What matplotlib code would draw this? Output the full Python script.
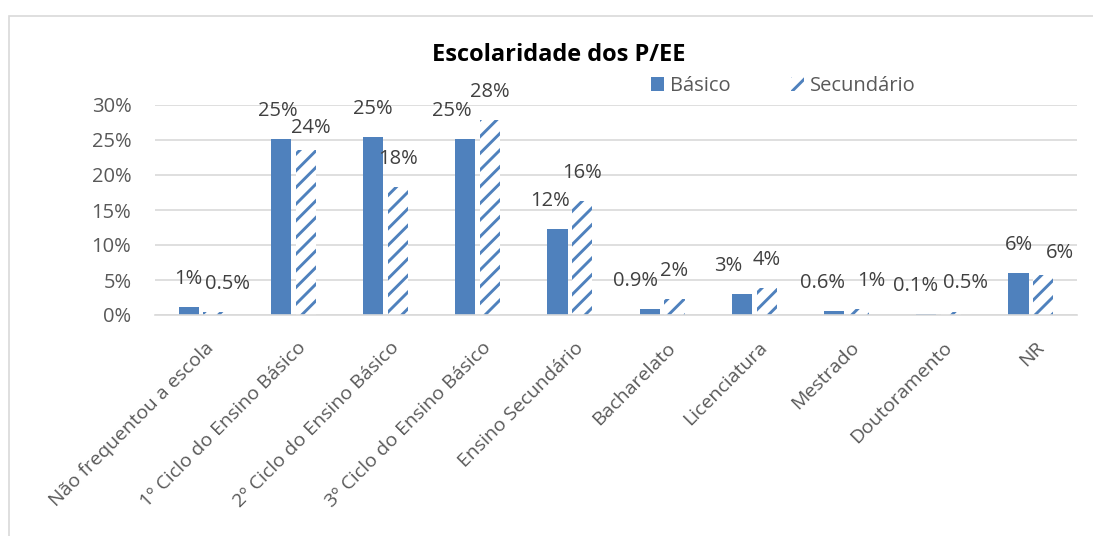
import numpy as np
import matplotlib.pyplot as plt
from matplotlib.patches import Rectangle
from matplotlib.ticker import PercentFormatter
from matplotlib.transforms import ScaledTranslation

plt.rcParams['font.family'] = ['Open Sans', 'DejaVu Sans']
plt.rcParams['hatch.linewidth'] = 2.1

categories = ["Não frequentou a escola", "1º Ciclo do Ensino Básico",
              "2º Ciclo do Ensino Básico", "3º Ciclo do Ensino Básico",
              "Ensino Secundário", "Bacharelato", "Licenciatura",
              "Mestrado", "Doutoramento", "NR"]
basico = [1.1, 25.1, 25.4, 25.1, 12.3, 0.9, 3.0, 0.6, 0.1, 6.0]
secundario = [0.4, 23.5, 18.3, 27.8, 16.3, 2.3, 3.8, 0.8, 0.5, 5.7]
basico_lbl = ["1%", "25%", "25%", "25%", "12%", "0.9%", "3%", "0.6%", "0.1%", "6%"]
secundario_lbl = ["0.5%", "24%", "18%", "28%", "16%", "2%", "4%", "1%", "0.5%", "6%"]

# label nudges (points) like Excel moved them to avoid overlaps
nudge_b = [0, -2, 0, -10, -5, -10, -10, -8, -8, 0]
nudge_s = [10, 4, 0, 0, 0, 0, 0, 9, 10, 12]
lift_s = [13, 9, 13, 13, 13, 13, 13, 13, 13, 9]

blue = "#4F81BD"
txt = "#595959"
grid = "#D9D9D9"

fig = plt.figure(figsize=(10.93, 5.36), dpi=100)
fig.patches.append(Rectangle((9 / 1093, -0.1), 1.2, 1 - 16 / 536 + 0.1,
                             transform=fig.transFigure, fill=False,
                             edgecolor=grid, linewidth=1.2))
ax = fig.add_axes([155 / 1093, 1 - 315 / 536, 922 / 1093, 210 / 536])

x = np.arange(len(categories))
w = 0.22
ax.bar(x - 0.135, basico, w, color=blue, linewidth=0, label="Básico")
ax.bar(x + 0.135, secundario, w, facecolor="white", edgecolor=blue,
       hatch="//", linewidth=0, label="Secundário")

for i in range(len(categories)):
    ax.annotate(basico_lbl[i], (x[i] - 0.135, basico[i]),
                xytext=(nudge_b[i], 13), textcoords="offset points",
                ha="center", va="bottom", fontsize=14.5, color="#404040")
    ax.annotate(secundario_lbl[i], (x[i] + 0.135, secundario[i]),
                xytext=(nudge_s[i], lift_s[i]), textcoords="offset points",
                ha="center", va="bottom", fontsize=14.5, color="#404040")

ax.set_xlim(-0.5, len(categories) - 0.5)
ax.set_ylim(0, 30)
ax.set_yticks(np.arange(0, 31, 5))
ax.yaxis.set_major_formatter(PercentFormatter(decimals=0))
ax.grid(axis="y", color=grid, linewidth=1.2)
ax.set_axisbelow(True)
for s in ["top", "right", "left"]:
    ax.spines[s].set_visible(False)
ax.spines["bottom"].set_color(grid)
ax.spines["bottom"].set_linewidth(1.2)
ax.tick_params(axis="y", length=0, pad=17, labelsize=14.5, labelcolor=txt)
ax.tick_params(axis="x", length=0, pad=17, labelsize=14, labelcolor=txt)
ax.set_xticks(x)
ax.set_xticklabels(categories, rotation=45, ha="right", va="top",
                   rotation_mode="anchor")
shift = ScaledTranslation(4 / 100, 0, fig.dpi_scale_trans)
for lab in ax.get_xticklabels():
    lab.set_transform(lab.get_transform() + shift)

fig.text(559 / 1093, 1 - 55 / 536, "Escolaridade dos P/EE", ha="center", va="center",
         fontsize=17, fontweight="bold", color="black")
ax.legend(loc="center left", bbox_to_anchor=(641 / 1093, 1 - 86 / 536),
          bbox_transform=fig.transFigure, ncol=2, frameon=False, borderpad=0,
          fontsize=14.5, labelcolor=txt, handlelength=0.65, handleheight=0.65,
          handletextpad=0.3, columnspacing=3.0)

fig.savefig("out.png", dpi=100)
